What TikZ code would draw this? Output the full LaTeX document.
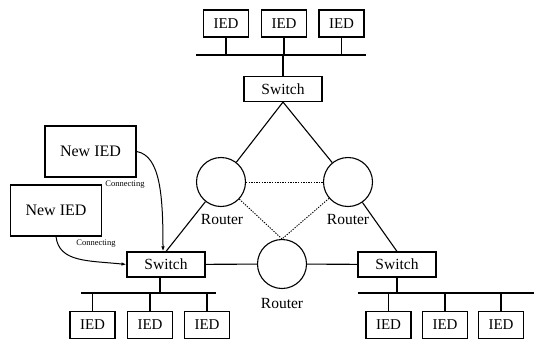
\documentclass[tikz,border=0pt]{standalone}
\usepackage{fontspec}
\setmainfont{Liberation Serif}
\usetikzlibrary{arrows.meta,positioning,calc}

\begin{document}
\begin{tikzpicture}[x=1pt,y=-1pt,line width=1.1pt,
    iedbox/.style={draw,minimum width=45pt,minimum height=27pt,inner sep=0pt,
        font=\fontsize{15}{15}\selectfont},
    switchbox/.style={draw,minimum width=78pt,minimum height=25pt,inner sep=0pt,
        font=\fontsize{15.5}{15.5}\selectfont},
    newbox/.style={draw,minimum width=91pt,minimum height=51pt,inner sep=0pt,
        font=\fontsize{16}{16}\selectfont},
    router/.style={draw,circle,minimum size=49pt,inner sep=0pt},
    routerlbl/.style={font=\fontsize{15.5}{15.5}\selectfont},
    connlbl/.style={font=\fontsize{8.5}{8.5}\selectfont,inner sep=0pt},
    meshline/.style={line width=0.9pt,dash pattern=on 1.3pt off 1.3pt},
    arrowline/.style={-{Latex[length=5pt,width=3.5pt]},line width=1pt}]
\useasboundingbox (0,0) rectangle (534,340);

% top station
\node[iedbox] (it1) at (226,23.5){IED};
\node[iedbox] (it2) at (284,23.5){IED};
\node[iedbox] (it3) at (341.5,23.5){IED};
\coordinate (bustA) at (196,55);
\coordinate (bustB) at (366,55);
\draw (bustA) -- (bustB);
\foreach \i in {1,2,3}
    \draw (it\i.south) -- (it\i.south |- bustA);
\node[switchbox] (swt) at (283,89){Switch};
\draw (swt.north) -- (swt.north |- bustA);

% routers
\node[router] (rl) at (221,182){};
\node[router] (rr) at (348,182){};
\node[router] (rb) at (282,264){};
\node[routerlbl] at (222,219){Router};
\node[routerlbl] at (348,219){Router};
\node[routerlbl] at (282,303){Router};

% left and right switches
\node[switchbox] (swl) at (166,264.5){Switch};
\node[switchbox] (swr) at (397,264.5){Switch};

\draw (swt.south) -- (rl);
\draw (swt.south) -- (rr);
\draw (rl) -- (swl.north);
\draw (rr) -- (swr.north);
\draw (swl) -- (rb);
\draw (rb) -- (swr);
\draw[meshline] (rl) -- (rr);
\draw[meshline] (rl) -- (rb.north);
\draw[meshline] (rr) -- (rb.north);

% left station
\node[iedbox] (il1) at (92.5,325){IED};
\node[iedbox] (il2) at (150,325){IED};
\node[iedbox] (il3) at (207,325){IED};
\coordinate (buslA) at (81,293);
\coordinate (buslB) at (216,293);
\draw (buslA) -- (buslB);
\foreach \i in {1,2,3}
    \draw (il\i.north) -- (il\i.north |- buslA);
\coordinate (dropl) at (160,293);
\draw (swl.south -| dropl) -- (dropl);

% right station
\node[iedbox] (ir1) at (388.5,325){IED};
\node[iedbox] (ir2) at (445,325){IED};
\node[iedbox] (ir3) at (501,325){IED};
\coordinate (busrA) at (358,293);
\coordinate (busrB) at (534,293);
\draw (busrA) -- (busrB);
\foreach \i in {1,2,3}
    \draw (ir\i.north) -- (ir\i.north |- busrA);
\draw (swr.south) -- (swr.south |- busrA);

% new devices
\node[newbox] (new1) at (90.5,151.5){New IED};
\node[newbox] (new2) at (56,210.5){New IED};
\coordinate (tgt1) at ($(swl.north)+(-3,0)$);
\draw[arrowline] (new1.east) .. controls +(24,4) and +(0,-55) .. (tgt1);
\draw[arrowline] (new2.south) .. controls +(3,26) and +(-38,-4) .. (swl.west);
\node[connlbl] at (125,185){Connecting};
\node[connlbl] at (96,244){Connecting};
\end{tikzpicture}
\end{document}
